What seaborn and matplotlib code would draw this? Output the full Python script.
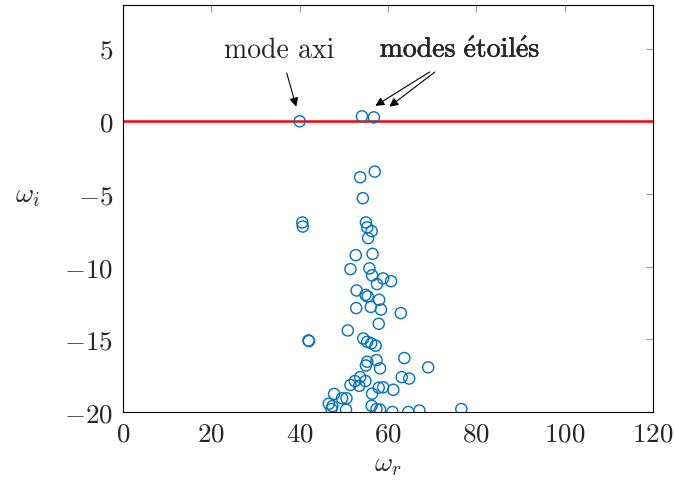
import numpy as np
import pandas as pd
import seaborn as sns
import matplotlib.pyplot as plt
import matplotlib.patheffects as pe

omega_r = [40.0, 54.1, 56.8, 53.7, 57.0, 54.3, 40.6, 40.7, 55.0, 55.3,
           56.3, 55.5, 52.7, 56.5, 51.5, 55.8, 56.4, 58.9, 60.7, 57.5,
           52.9, 54.9, 55.4, 58.0, 52.8, 56.1, 58.4, 62.9, 57.9, 50.9,
           42.0, 42.1, 54.4, 55.3, 56.2, 57.2, 63.7, 57.4, 55.3, 55.0,
           58.2, 63.1, 64.8, 53.7, 54.9, 52.5, 51.5, 53.5, 57.9, 58.9,
           61.2, 56.4, 47.8, 49.6, 50.6, 46.6, 47.4, 47.2, 50.5, 56.3,
           57.4, 58.2, 61.0, 64.6, 67.1, 76.6, 69.1]
omega_i = [0.0, 0.34, 0.27, -3.85, -3.46, -5.29, -6.96, -7.24, -6.96, -7.3,
           -7.56, -8.04, -9.21, -9.12, -10.17, -10.12, -10.6, -10.81, -11.0, -11.2,
           -11.64, -11.94, -12.05, -12.28, -12.85, -12.77, -12.95, -13.2, -13.93, -14.39,
           -15.08, -15.12, -14.94, -15.17, -15.28, -15.44, -16.29, -16.43, -16.54, -16.8,
           -17.0, -17.6, -17.7, -17.6, -17.87, -17.87, -18.14, -18.2, -18.33, -18.3,
           -18.47, -18.74, -18.76, -19.06, -19.06, -19.43, -19.6, -19.8, -19.84, -19.57,
           -19.8, -19.84, -20.0, -20.0, -19.9, -19.8, -16.93]

x_ticks = [0, 20, 40, 60, 80, 100, 120]
y_ticks = [5, 0, -5, -10, -15, -20]

df = pd.DataFrame({"wr": omega_r, "wi": omega_i})

sns.set_theme(style="white")
plt.rcParams["font.family"] = ["cmr10", "DejaVu Serif"]
plt.rcParams["mathtext.fontset"] = "cm"
plt.rcParams["axes.formatter.use_mathtext"] = True
plt.rcParams["axes.unicode_minus"] = True

fig = plt.figure(figsize=(6.75, 4.81), dpi=100)
ax = fig.add_axes([0.1822, 0.1414, 0.7852, 0.8461])

ax.axhline(0, color="#ff0000", lw=1.8, zorder=1)
sns.scatterplot(data=df, x="wr", y="wi", ax=ax, marker="o", s=64,
                facecolors="none", edgecolor="#0072BD", linewidth=1.0, zorder=3)

ax.set_xlim(0, 120)
ax.set_ylim(-20, 8)
ax.set_xticks(x_ticks)
ax.set_yticks(y_ticks)
ax.tick_params(direction="in", length=5, width=0.8, color="#999999",
               labelsize=19.5, top=True, right=True, pad=7)
for s in ax.spines.values():
    s.set_color("black")
    s.set_linewidth(0.8)

ax.set_xlabel(r"$\omega_r$", fontsize=20, labelpad=4)
ax.set_ylabel(r"$\omega_i$", fontsize=20, rotation=0)
ax.yaxis.set_label_coords(-0.18, 0.5)

arrow = dict(arrowstyle="-|>", color="black", lw=0.8, mutation_scale=13)
ax.annotate("", xy=(39.4, 0.82), xytext=(36.9, 3.5), arrowprops=arrow)
ax.annotate("", xy=(56.6, 0.96), xytext=(70.0, 3.5), arrowprops=arrow)
ax.annotate("", xy=(59.8, 0.89), xytext=(71.1, 3.5), arrowprops=arrow)
ax.text(35.3, 4.95, "mode axi", fontsize=20, ha="center", va="center")
ax.text(76.3, 4.95, r"$\mathrm{modes\ \acute{e}toil\acute{e}s}$", fontsize=20,
        ha="center", va="center",
        path_effects=[pe.withStroke(linewidth=0.35, foreground="black")])

fig.savefig("out.png", dpi=100)
